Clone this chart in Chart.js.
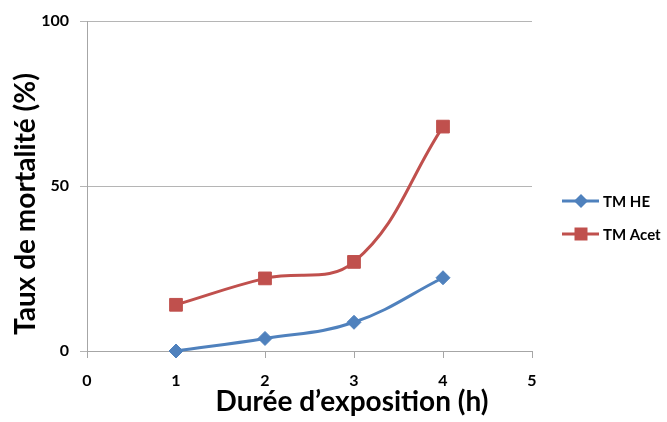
<!DOCTYPE html>
<html>
<head>
<meta charset="utf-8">
<script src="https://cdn.jsdelivr.net/npm/chart.js@4"></script>
<style>
  html, body { margin: 0; padding: 0; background: #ffffff; }
  #wrap { width: 667px; height: 422px; }
</style>
</head>
<body>
<div id="wrap"><canvas id="c" width="667" height="422"></canvas></div>
<script>
// Exposure time (hours) and mortality rates (%)
const hours = [1, 2, 3, 4];
const tmHE = [0, 3.8, 8.7, 22.2];
const tmAcet = [14, 22, 27, 68];
const seriesNames = ['TM HE', 'TM Acet'];
const xTicks = [0, 1, 2, 3, 4, 5];
const yTicks = [0, 50, 100];
const xTitle = 'Durée d\u2019exposition (h)';
const yTitle = 'Taux de mortalité (%)';

const BLUE = '#4F81BD';
const RED = '#C0504D';
const TICK_FONT = { family: 'Lato', size: 16, weight: 'bold' };
const TITLE_FONT = 'bold 28px Lato';
const LEGEND_FONT = 'bold 15px Lato';

function pts(ys) {
  return hours.map((h, i) => ({ x: h, y: ys[i] }));
}

// Axis titles placed beside the axes
const axisTitles = {
  id: 'axisTitles',
  afterDraw(chart) {
    const ctx = chart.ctx;
    ctx.save();
    ctx.fillStyle = '#000';
    ctx.font = TITLE_FONT;
    ctx.textAlign = 'center';
    ctx.textBaseline = 'alphabetic';
    ctx.fillText(xTitle, 352, 411);
    ctx.translate(35, 204);
    ctx.rotate(-Math.PI / 2);
    ctx.fillText(yTitle, 0, 0);
    ctx.restore();
  }
};

// Legend on the right: line sample with marker, then the series name
const sideLegend = {
  id: 'sideLegend',
  afterDraw(chart) {
    const ctx = chart.ctx;
    ctx.save();
    chart.data.datasets.forEach((ds, i) => {
      const y = 201 + i * 33;
      ctx.strokeStyle = ds.borderColor;
      ctx.lineWidth = 3;
      ctx.beginPath();
      ctx.moveTo(562, y);
      ctx.lineTo(599, y);
      ctx.stroke();
      ctx.fillStyle = ds.borderColor;
      ctx.beginPath();
      if (ds.pointStyle === 'rectRot') {
        const r = 7;
        ctx.moveTo(581 - r, y);
        ctx.lineTo(581, y - r);
        ctx.lineTo(581 + r, y);
        ctx.lineTo(581, y + r);
        ctx.closePath();
      } else {
        ctx.rect(581 - 6.5, y - 6.5, 13, 13);
      }
      ctx.fill();
      ctx.fillStyle = '#000';
      ctx.font = LEGEND_FONT;
      ctx.textAlign = 'left';
      ctx.textBaseline = 'middle';
      ctx.fillText(ds.label, 603, y + 1);
    });
    ctx.restore();
  }
};

new Chart(document.getElementById('c'), {
  type: 'line',
  data: {
    datasets: [
      {
        label: seriesNames[0],
        data: pts(tmHE),
        borderColor: BLUE,
        backgroundColor: BLUE,
        borderWidth: 3,
        pointStyle: 'rectRot',
        pointRadius: 7,
        pointBorderWidth: 1,
        tension: 0.4,
        fill: false
      },
      {
        label: seriesNames[1],
        data: pts(tmAcet),
        borderColor: RED,
        backgroundColor: RED,
        borderWidth: 3,
        pointStyle: 'rect',
        pointRadius: 9,
        pointBorderWidth: 1,
        tension: 0.4,
        fill: false
      }
    ]
  },
  options: {
    responsive: false,
    animation: false,
    clip: false,
    layout: { padding: { left: 0, top: 21, right: 135, bottom: 0 } },
    plugins: {
      legend: { display: false },
      tooltip: { enabled: false }
    },
    scales: {
      x: {
        type: 'linear',
        min: 0,
        max: 5,
        afterBuildTicks(scale) { scale.ticks = xTicks.map(v => ({ value: v })); },
        afterFit(scale) { scale.height = 71; },
        ticks: { color: '#000', font: TICK_FONT, padding: 13, maxRotation: 0 },
        grid: { drawOnChartArea: false, drawTicks: true, tickLength: 7, color: '#a6a6a6' },
        border: { display: true, color: '#a6a6a6', width: 1 }
      },
      y: {
        type: 'linear',
        min: 0,
        max: 100,
        afterBuildTicks(scale) { scale.ticks = yTicks.map(v => ({ value: v })); },
        afterFit(scale) { scale.width = 87; },
        ticks: { color: '#000', font: TICK_FONT, padding: 11 },
        grid: { drawOnChartArea: true, drawTicks: true, tickLength: 7, color: '#b5b5b5' },
        border: { display: true, color: '#a6a6a6', width: 1 }
      }
    }
  },
  plugins: [axisTitles, sideLegend]
});
</script>
</body>
</html>
